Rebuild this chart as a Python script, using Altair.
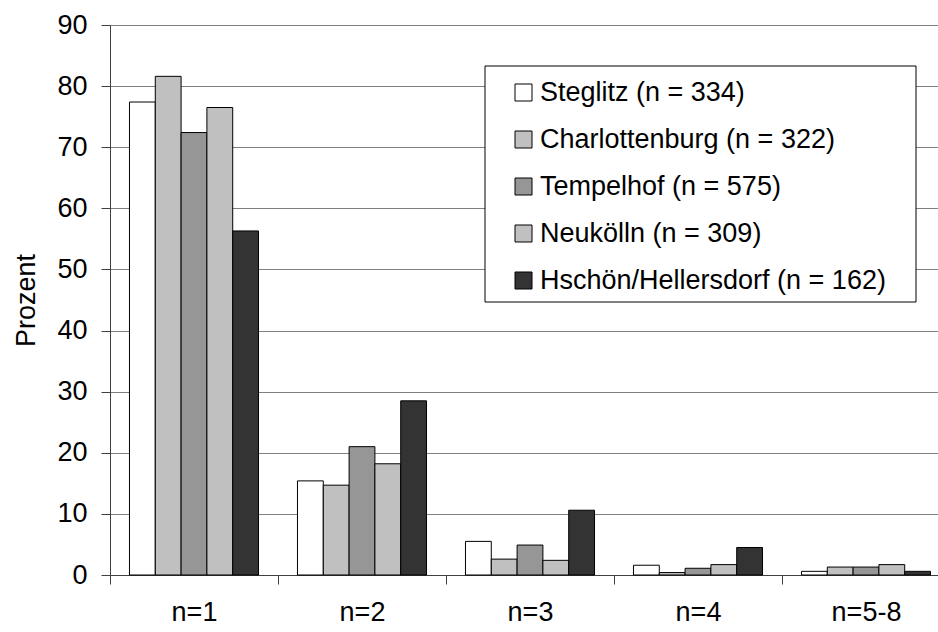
import altair as alt
import pandas as pd

categories = ["n=1", "n=2", "n=3", "n=4", "n=5-8"]
series = [
    "Steglitz (n = 334)",
    "Charlottenburg (n = 322)",
    "Tempelhof (n = 575)",
    "Neukölln (n = 309)",
    "Hschön/Hellersdorf (n = 162)",
]
steglitz = [77.4, 15.4, 5.5, 1.6, 0.6]
charlottenburg = [81.6, 14.7, 2.6, 0.4, 1.3]
tempelhof = [72.4, 21.0, 4.9, 1.1, 1.3]
neukoelln = [76.5, 18.2, 2.4, 1.7, 1.7]
hschoen = [56.3, 28.5, 10.6, 4.5, 0.6]
colors = ["#ffffff", "#c0c0c0", "#969696", "#c0c0c0", "#333333"]

rows = []
for name, vals in zip(series, [steglitz, charlottenburg, tempelhof, neukoelln, hschoen]):
    for c, v in zip(categories, vals):
        rows.append({"cat": c, "series": name, "value": v})
df = pd.DataFrame(rows)

FONT = "Liberation Sans"

bars = alt.Chart(df).mark_bar(stroke="black", strokeWidth=1).encode(
    x=alt.X(
        "cat:N",
        sort=categories,
        scale=alt.Scale(range=[0, 840], paddingInner=0, paddingOuter=0),
        axis=alt.Axis(
            title=None,
            labelAngle=0,
            labelFontSize=27,
            labelFont=FONT,
            labelColor="black",
            labelPadding=15,
            tickSize=9,
            tickColor="#404040",
            tickOffset=-84,
            labelOffset=84,
            domainColor="#404040",
            grid=False,
        ),
    ),
    xOffset=alt.XOffset(
        "series:N",
        sort=series,
        scale=alt.Scale(paddingInner=0, paddingOuter=0.755),
    ),
    y=alt.Y(
        "value:Q",
        scale=alt.Scale(domain=[0, 90], nice=False),
        axis=alt.Axis(
            title="Prozent",
            titleFontSize=27,
            titleFont=FONT,
            titleFontWeight="normal",
            titleColor="black",
            titlePadding=16,
            values=[0, 10, 20, 30, 40, 50, 60, 70, 80, 90],
            labelFontSize=27,
            labelFont=FONT,
            labelColor="black",
            labelPadding=14,
            tickSize=9,
            tickColor="#404040",
            domainColor="#404040",
            gridColor="#808080",
            gridWidth=1,
        ),
    ),
    color=alt.Color(
        "series:N",
        sort=series,
        scale=alt.Scale(domain=series, range=colors),
        legend=alt.Legend(
            title=None,
            orient="none",
            legendX=400,
            legendY=54,
            symbolType="square",
            symbolSize=289,
            symbolStrokeColor="black",
            symbolStrokeWidth=1,
            labelFontSize=27,
            labelFont=FONT,
            labelColor="black",
            labelOffset=3,
            rowPadding=19,
            padding=0,
            labelLimit=500,
        ),
    ),
)

frame = alt.Chart(alt.Data(values=[{}])).mark_rect(
    fill="white", stroke="black", strokeWidth=1
).encode(
    x=alt.value(375),
    x2=alt.value(806),
    y=alt.value(41),
    y2=alt.value(277),
)

chart = alt.layer(bars, frame).properties(
    width=828,
    height=550,
    autosize=alt.AutoSizeParams(type="none"),
    padding={"left": 110, "top": 25, "right": 0, "bottom": 57},
    background="white",
).configure_view(stroke=None)

chart.save("out.html", embed_options={"renderer": "svg", "actions": False})
